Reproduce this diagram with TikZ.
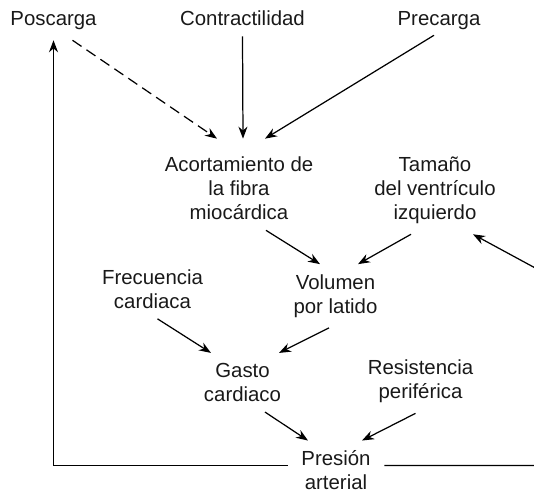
\documentclass[tikz,border=0pt]{standalone}
\usepackage{fontspec}
\setmainfont{Liberation Sans}
\usetikzlibrary{arrows.meta}

\begin{document}
\begin{tikzpicture}[
  txt/.style={align=center,inner sep=0.2cm,text=black!90,font=\fontsize{11.6}{13.66}\selectfont},
  arr/.style={line width=0.7pt,-{Stealth[length=2.4mm,width=1.8mm]}}]
\useasboundingbox (0,0) rectangle (10.68,-9.9);
\clip (0,0) rectangle (10.68,-9.9);

% top row
\node[txt] (posc) at (1.07,-0.416) {Poscarga};
\node[txt] (contr) at (4.85,-0.37) {Contractilidad};
\node[txt] (prec) at (8.78,-0.416) {Precarga};

% middle
\node[txt] (acort) at (4.78,-3.77) {Acortamiento de\\la fibra\\miocárdica};
\node[txt] (tam) at (8.7,-3.81) {Tamaño\\del ventrículo\\izquierdo};
\node[txt] (frec) at (3.05,-5.78) {Frecuencia\\cardiaca};
\node[txt] (vol) at (6.71,-5.92) {Volumen\\por latido};
\node[txt] (gasto) at (4.85,-7.65) {Gasto\\cardiaco};
\node[txt] (resist) at (8.41,-7.63) {Resistencia\\periférica};
\node[txt,inner xsep=0.27cm] (pres) at (6.72,-9.41) {Presión\\arterial};

% off-picture ends
\coordinate (rtam) at (11,-5.52);
\coordinate (rpres) at (11,-9.31);

\draw[arr,dash pattern=on 6.2pt off 3.4pt] ([xshift=0.38cm]posc.south) -- ([xshift=-0.44cm,yshift=0.16cm]acort.north);
\draw[arr] (contr.south) -- ([xshift=0.08cm,yshift=0.16cm]acort.north);
\draw[arr] ([xshift=-0.1cm,yshift=0.1cm]prec.south) -- ([xshift=0.52cm,yshift=0.16cm]acort.north);

\draw[arr] ([xshift=0.54cm]acort.south) -- ([xshift=-0.31cm]vol.north);
\draw[arr] ([xshift=-0.48cm]tam.south) -- ([xshift=0.45cm]vol.north);
\draw[arr] (rtam) -- ([xshift=0.76cm]tam.south);

\draw[arr] ([xshift=0.1cm]frec.south) -- ([xshift=-0.63cm]gasto.north);
\draw[arr] ([xshift=-0.13cm]vol.south) -- ([xshift=0.73cm]gasto.north);

\draw[arr] ([xshift=0.45cm]gasto.south) -- ([xshift=-0.56cm]pres.north);
\draw[arr] ([xshift=-0.1cm]resist.south) -- ([xshift=0.52cm]pres.north);

% feedback
\draw[arr] ([yshift=0.1cm]pres.west) -| (posc.south);
\draw[line width=0.7pt] ([yshift=0.1cm]pres.east) -- (rpres);
\end{tikzpicture}
\end{document}
